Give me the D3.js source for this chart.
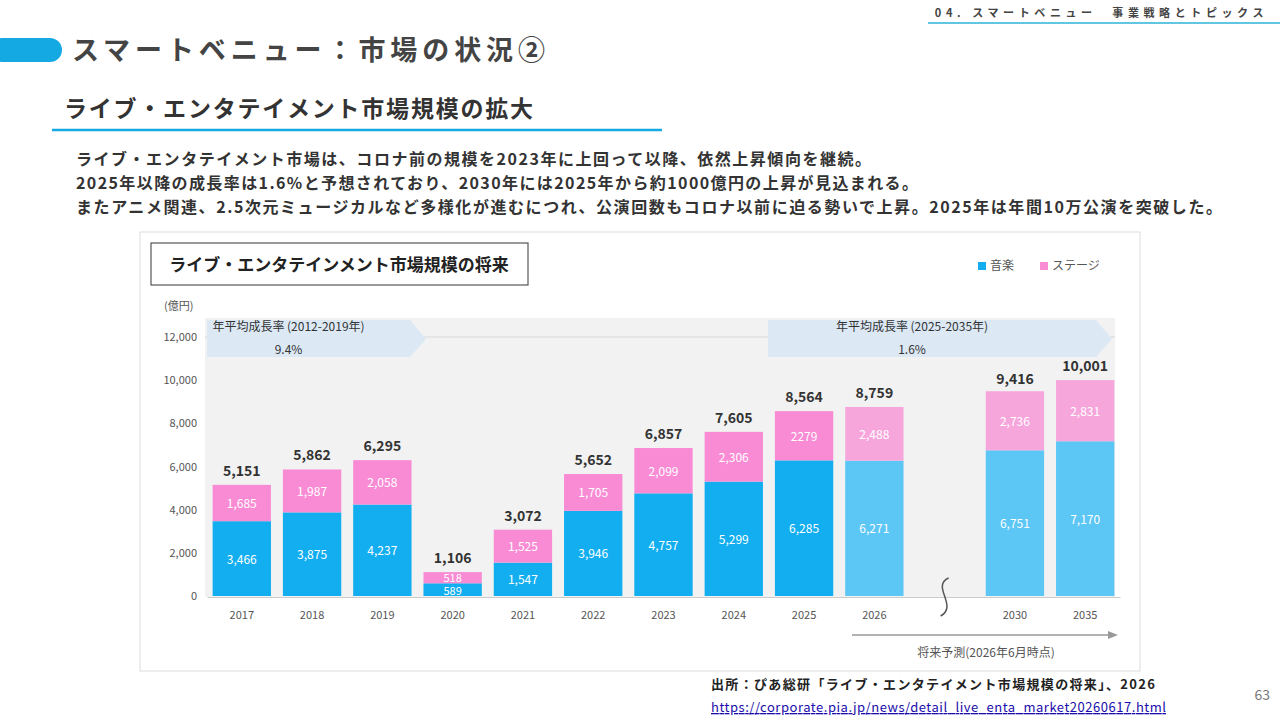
<!DOCTYPE html>
<html>
<head>
<meta charset="utf-8">
<script src="https://cdn.jsdelivr.net/npm/d3@7"></script>
<style>
  body { margin:0; background:#fff; font-family:"Noto Sans CJK JP","Noto Sans",sans-serif; }
  svg text { font-family:"Noto Sans CJK JP","Noto Sans",sans-serif; }
</style>
</head>
<body>
<svg id="chart" width="1280" height="720"></svg>
<script>
// data
var years   = ["2017","2018","2019","2020","2021","2022","2023","2024","2025","2026","","2030","2035"];
var music   = [3466,3875,4237,589,1547,3946,4757,5299,6285,6271,null,6751,7170];
var stage   = [1685,1987,2058,518,1525,1705,2099,2306,2279,2488,null,2736,2831];
var totals  = [5151,5862,6295,1106,3072,5652,6857,7605,8564,8759,null,9416,10001];
var stageLabels = ["1,685","1,987","2,058","518","1,525","1,705","2,099","2,306","2279","2,488","","2,736","2,831"];
var yTicks  = [0,2000,4000,6000,8000,10000,12000];
var bodyLines = [
  "ライブ・エンタテイメント市場は、コロナ前の規模を2023年に上回って以降、依然上昇傾向を継続。",
  "2025年以降の成長率は1.6%と予想されており、2030年には2025年から約1000億円の上昇が見込まれる。",
  "またアニメ関連、2.5次元ミュージカルなど多様化が進むにつれ、公演回数もコロナ以前に迫る勢いで上昇。2025年は年間10万公演を突破した。"
];
var bodyWidths = [795, 842, 1146];

var svg = d3.select("#chart");
var fmt = d3.format(",");

// page header
svg.append("text").attr("x",1268).attr("y",17).attr("text-anchor","end")
  .attr("font-size",11).attr("font-weight",700).attr("fill","#444").attr("letter-spacing",4.6)
  .text("04. スマートベニュー　事業戦略とトピックス");
svg.append("line").attr("x1",928).attr("x2",1280).attr("y1",23).attr("y2",23).attr("stroke","#2bb3d9").attr("stroke-width",1.5);
svg.append("rect").attr("x",-10).attr("y",38).attr("width",72).attr("height",24).attr("rx",12).attr("fill","#14a9e3");
svg.append("text").attr("x",72).attr("y",60).attr("font-size",27).attr("font-weight",700).attr("fill","#444")
  .attr("textLength",473).text("スマートベニュー：市場の状況②");
svg.append("text").attr("x",64).attr("y",117).attr("font-size",23).attr("font-weight",700).attr("fill","#333")
  .attr("textLength",469).text("ライブ・エンタテイメント市場規模の拡大");
svg.append("line").attr("x1",52).attr("x2",662).attr("y1",130).attr("y2",130).attr("stroke","#14a9e3").attr("stroke-width",2.5);
svg.selectAll("text.body").data(bodyLines).enter().append("text").attr("class","body")
  .attr("x",76).attr("y",function(d,i){ return 165 + i*24; })
  .attr("font-size",16).attr("font-weight",700).attr("fill","#333")
  .attr("textLength",function(d,i){ return bodyWidths[i]; })
  .text(function(d){ return d; });

// chart frame
svg.append("rect").attr("x",140).attr("y",232).attr("width",1000).attr("height",439)
  .attr("fill","#fff").attr("stroke","#ddd");
svg.append("rect").attr("x",151).attr("y",243).attr("width",377).attr("height",42)
  .attr("fill","#fff").attr("stroke","#555").attr("stroke-width",1.2);
svg.append("text").attr("x",339).attr("y",271).attr("text-anchor","middle").attr("font-size",17)
  .attr("font-weight",700).attr("fill","#222").text("ライブ・エンタテインメント市場規模の将来");

// legend
var legend = [["音楽","#12aef0",978],["ステージ","#f98bd5",1040]];
legend.forEach(function(l){
  svg.append("rect").attr("x",l[2]).attr("y",262).attr("width",8).attr("height",8).attr("fill",l[1]);
  svg.append("text").attr("x",l[2]+12).attr("y",270).attr("font-size",12).attr("fill","#555").text(l[0]);
});

// scales
var x = d3.scaleBand().domain(years).range([207,1120]).paddingInner(0.17).paddingOuter(0.08);
var y = d3.scaleLinear().domain([0,12000]).range([596,337]);

// plot background
svg.append("rect").attr("x",205).attr("y",318).attr("width",910).attr("height",279).attr("fill","#f2f2f2");
svg.selectAll("line.grid").data([12000]).enter().append("line")
  .attr("x1",205).attr("x2",1115).attr("y1",y).attr("y2",y).attr("stroke","#d8d8d8");

// growth arrows
function arrow(x0,x1,label,val){
  svg.append("path").attr("d","M"+x0+",320 L"+x1+",320 L"+(x1+16)+",339 L"+x1+",357 L"+x0+",357 Z")
    .attr("fill","#dce9f5");
  svg.append("text").attr("x",(x0+x1)/2-20).attr("y",331).attr("text-anchor","middle").attr("font-size",12).attr("fill","#333").text(label);
  svg.append("text").attr("x",(x0+x1)/2-20).attr("y",354).attr("text-anchor","middle").attr("font-size",12).attr("fill","#333").text(val);
}
arrow(207,410,"年平均成長率 (2012-2019年)","9.4%");
arrow(768,1096,"年平均成長率 (2025-2035年)","1.6%");

// axis
var yAxis = svg.append("g").attr("transform","translate(197,0)")
  .call(d3.axisLeft(y).tickValues(yTicks).tickFormat(fmt).tickSize(0).tickPadding(0));
yAxis.select(".domain").remove();
yAxis.selectAll("text").attr("font-size",11).attr("fill","#555");
svg.append("text").attr("x",164).attr("y",310).attr("font-size",11).attr("fill","#555").text("(億円)");
var xAxis = svg.append("g").attr("transform","translate(0,597)")
  .call(d3.axisBottom(x).tickSize(0).tickPadding(14));
xAxis.select(".domain").attr("stroke","#ccc");
xAxis.selectAll("text").attr("font-size",11).attr("fill","#555");

// bars
var idx = d3.range(years.length).filter(function(i){ return music[i] !== null; });
function fut(i){ return +years[i] >= 2026; }
var g = svg.append("g");
g.selectAll("rect.music").data(idx).enter().append("rect")
  .attr("x",function(i){ return x(years[i]); }).attr("width",x.bandwidth())
  .attr("y",function(i){ return y(music[i]); }).attr("height",function(i){ return y(0)-y(music[i]); })
  .attr("fill",function(i){ return fut(i) ? "#5cc6f5" : "#12aef0"; });
g.selectAll("rect.stage").data(idx).enter().append("rect")
  .attr("x",function(i){ return x(years[i]); }).attr("width",x.bandwidth())
  .attr("y",function(i){ return y(music[i]+stage[i]); }).attr("height",function(i){ return y(music[i])-y(music[i]+stage[i]); })
  .attr("fill",function(i){ return fut(i) ? "#f7a6dc" : "#f98bd5"; });
g.selectAll("text.m").data(idx).enter().append("text")
  .attr("x",function(i){ return x(years[i])+x.bandwidth()/2; })
  .attr("y",function(i){ return years[i]==="2020" ? 595 : (y(music[i])+y(0))/2+5; })
  .attr("text-anchor","middle").attr("font-size",function(i){ return years[i]==="2020" ? 11 : 12; })
  .attr("fill","#fff").text(function(i){ return fmt(music[i]); });
g.selectAll("text.s").data(idx).enter().append("text")
  .attr("x",function(i){ return x(years[i])+x.bandwidth()/2; })
  .attr("y",function(i){ return years[i]==="2020" ? 582 : (y(music[i])+y(music[i]+stage[i]))/2+5; })
  .attr("text-anchor","middle").attr("font-size",function(i){ return years[i]==="2020" ? 11 : 12; })
  .attr("fill","#fff").text(function(i){ return stageLabels[i]; });
g.selectAll("text.t").data(idx).enter().append("text")
  .attr("x",function(i){ return x(years[i])+x.bandwidth()/2; })
  .attr("y",function(i){ return y(totals[i])-9; })
  .attr("text-anchor","middle").attr("font-size",14).attr("font-weight",700).attr("fill","#333").text(function(i){ return fmt(totals[i]); });

// break mark
var bx = x("")+x.bandwidth()/2;
svg.append("path").attr("d","M"+(bx+4)+",578 C"+(bx-14)+",586 "+(bx+14)+",606 "+(bx-4)+",616")
  .attr("fill","none").attr("stroke","#555").attr("stroke-width",1.5);

// forecast arrow
svg.append("line").attr("x1",852).attr("x2",1110).attr("y1",635).attr("y2",635).attr("stroke","#999").attr("stroke-width",1.5);
svg.append("path").attr("d","M1118,635 L1108,631 L1108,639 Z").attr("fill","#999");
svg.append("text").attr("x",986).attr("y",657).attr("text-anchor","middle").attr("font-size",12).attr("fill","#555").text("将来予測(2026年6月時点)");

// source
svg.append("text").attr("x",711).attr("y",689).attr("font-size",13).attr("font-weight",700).attr("fill","#222")
  .attr("textLength",444).text("出所：ぴあ総研「ライブ・エンタテイメント市場規模の将来」、2026");
svg.append("text").attr("x",711).attr("y",712).attr("font-size",13).attr("fill","#1a0dab").attr("text-decoration","underline")
  .attr("textLength",455).text("https://corporate.pia.jp/news/detail_live_enta_market20260617.html");
svg.append("text").attr("x",1270).attr("y",700).attr("text-anchor","end").attr("font-size",14).attr("fill","#777").text("63");
</script>
</body>
</html>
